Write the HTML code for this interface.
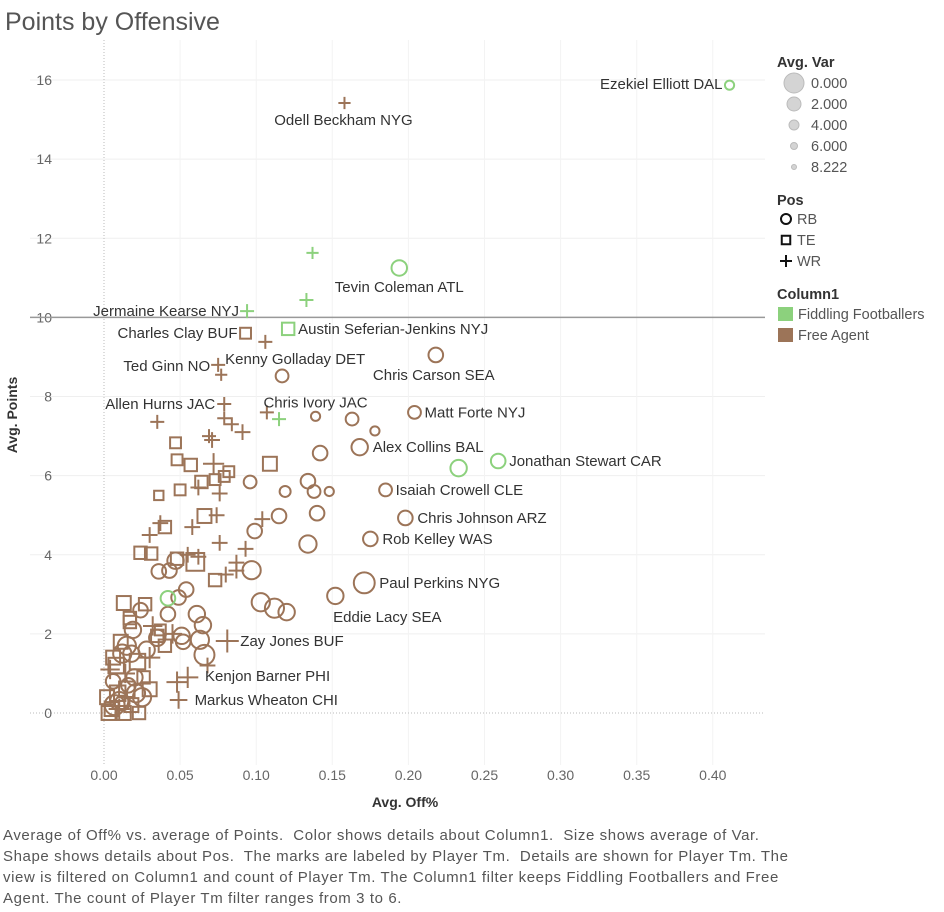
<!DOCTYPE html>
<html><head><meta charset="utf-8"><style>
body{margin:0;width:944px;height:912px;background:#fff;font-family:"Liberation Sans",sans-serif;overflow:hidden;position:relative}
#title{position:absolute;left:5px;top:8px;font-size:25px;color:#555}
#foot{position:absolute;left:3px;top:825px;font-size:15px;line-height:21px;color:#555;white-space:pre;letter-spacing:0.6px}
svg text{font-family:"Liberation Sans",sans-serif}
</style></head><body>
<div id="title">Points by Offensive</div>
<svg id="c" width="944" height="912" style="position:absolute;left:0;top:0"></svg>
<div id="foot">Average of Off% vs. average of Points.  Color shows details about Column1.  Size shows average of Var.
Shape shows details about Pos.  The marks are labeled by Player Tm.  Details are shown for Player Tm. The
view is filtered on Column1 and count of Player Tm. The Column1 filter keeps Fiddling Footballers and Free
Agent. The count of Player Tm filter ranges from 3 to 6.</div>
<script>
const xVals=[0.411,0.158,0.194,0.137,0.133,0.094,0.121,0.093,0.106,0.218,0.075,0.077,0.079,0.117,0.079,0.139,0.204,0.163,0.178,0.115,0.107,0.035,0.168,0.259,0.233,0.185,0.198,0.175,0.171,0.152,0.081,0.048,0.049,0.042,
0.142,0.134,0.138,0.148,0.14,0.134,0.115,0.119,0.099,0.096,0.097,0.103,0.112,0.120,0.066,0.063,0.065,0.061,0.049,0.054,0.043,0.036,0.047,0.051,0.018,
0.047,0.048,0.057,0.050,0.064,0.082,0.109,0.073,0.079,0.066,0.036,0.040,0.031,0.048,0.060,0.073,0.024,0.013,0.027,0.017,0.035,0.037,
0.071,0.069,0.084,0.091,0.030,0.037,0.093,0.104,0.087,0.087,0.076,0.080,0.068,0.062,0.058,0.074,0.055,0.076,0.062,0.072,
0.005,0.010,0.015,0.020,0.008,0.012,0.018,0.025,0.003,0.006,0.014,0.022,0.028,0.009,0.016,0.004,0.011,0.019,0.026,0.030,0.007,0.013,0.021,0.002,0.017,0.024,0.032,0.035,0.040,0.045,0.052,0.010,0.006,0.015,0.023,0.042,0.055,0.030,0.012,0.020];
const yVals=[15.87,15.42,11.25,11.63,10.44,10.16,9.71,9.6,9.38,9.05,8.8,8.55,7.81,8.52,7.45,7.5,7.6,7.43,7.13,7.43,7.6,7.36,6.72,6.37,6.19,5.64,4.93,4.4,3.29,2.96,1.82,0.78,0.33,2.9,
6.57,5.86,5.6,5.6,5.05,4.27,4.98,5.6,4.6,5.84,3.61,2.8,2.65,2.55,1.47,1.85,2.22,2.5,2.92,3.12,3.6,3.58,3.85,1.95,1.5,
6.83,6.4,6.27,5.64,5.84,6.1,6.3,5.9,5.98,4.98,5.5,4.7,4.03,3.9,3.82,3.36,4.05,2.78,2.75,2.3,1.95,2.1,
6.9,7.0,7.3,7.1,4.5,4.8,4.15,4.9,3.8,3.6,4.3,3.5,1.2,3.95,4.7,5.0,4.0,5.55,5.7,6.3,
0.1,0.3,0.6,0.9,1.2,1.5,0.2,0.4,0.0,0.8,1.0,1.3,1.6,0.5,0.7,1.1,1.8,2.1,0.9,1.4,0.2,0.0,0.5,0.4,2.4,2.6,2.2,1.9,1.7,2.0,1.8,0.1,1.4,1.7,0.0,2.5,0.9,0.6,0.25,0.15];
const posVals=["RB","WR","RB","WR","WR","WR","TE","TE","WR","RB","WR","WR","WR","RB","WR","RB","RB","RB","RB","WR","WR","WR","RB","RB","RB","RB","RB","RB","RB","RB","WR","WR","WR","RB",
"RB","RB","RB","RB","RB","RB","RB","RB","RB","RB","RB","RB","RB","RB","RB","RB","RB","RB","RB","RB","RB","RB","RB","RB","RB",
"TE","TE","TE","TE","TE","TE","TE","TE","TE","TE","TE","TE","TE","TE","TE","TE","TE","TE","TE","TE","TE","TE",
"WR","WR","WR","WR","WR","WR","WR","WR","WR","WR","WR","WR","WR","WR","WR","WR","WR","WR","WR","WR",
"TE","RB","TE","RB","TE","RB","TE","RB","TE","RB","WR","TE","RB","TE","RB","WR","TE","RB","TE","WR","RB","TE","RB","TE","TE","RB","WR","RB","TE","WR","RB","WR","TE","RB","TE","RB","WR","TE","RB","WR"];
const grpVals=["F","A","F","F","F","F","F","A","A","A","A","A","A","A","A","A","A","A","A","F","A","A","A","F","F","A","A","A","A","A","A","A","A","F"];
const varVals=[8,8,4.5,8,7,7,5,6,7,5,7,8,7,6,7,8,6,6,8,7,7,7,4,5,4,6,5,5,1.5,4,2,3,5,5,
5,5,6,8,5,3.5,5,7,5,6,3,3,2.5,4,2,3,4,4,5,5,5,5,4,4,4,
6,6,5,6,5,6,4,6,6,4,7,5,5,5,1.5,5,5,4,5,5,5,
6,6,7,7,6,6,6,6,6,6,6,6,6,6,6,6,6,6,6,6,
3,4,3,3,4,3,3,4,3,4,5,4,3,4,3,5,4,4,4,5,3,2,4,3,4,5,5,4,4,5,4,5,3,4,3,5,5,3,4,5];
const labelNames=["Ezekiel Elliott DAL","Odell Beckham NYG","Tevin Coleman ATL","Jermaine Kearse NYJ","Austin Seferian-Jenkins NYJ","Charles Clay BUF","Ted Ginn NO","Kenny Golladay DET","Chris Carson SEA","Allen Hurns JAC","Chris Ivory JAC","Matt Forte NYJ","Alex Collins BAL","Jonathan Stewart CAR","Isaiah Crowell CLE","Chris Johnson ARZ","Rob Kelley WAS","Paul Perkins NYG","Eddie Lacy SEA","Zay Jones BUF","Kenjon Barner PHI","Markus Wheaton CHI"];
const labelIdx=[0,1,2,5,6,7,10,10,9,12,15,16,22,23,25,26,27,28,29,30,31,32];
const labelOff=[[-7,4,"end"],[-1,22,"middle"],[0,24,"middle"],[-8,5,"end"],[10,5,"start"],[-8,5,"end"],[-8,6,"end"],[7,-1,"start"],[-2,25,"middle"],[-9,5,"end"],[0,-9,"middle"],[10,5,"start"],[13,5,"start"],[11,5,"start"],[10,5,"start"],[12,5,"start"],[12,5,"start"],[15,5,"start"],[52,26,"middle"],[13,5,"start"],[28,-1,"start"],[16,5,"start"]];
const yTicks=[0,2,4,6,8,10,12,14,16];
const xTicks=[0,0.05,0.1,0.15,0.2,0.25,0.3,0.35,0.4];
const refLine=10;

const NS="http://www.w3.org/2000/svg";
const svg=document.getElementById('c');
const X0=104,XS=1522,Y0=713,YS=39.56;
const sx=v=>X0+v*XS, sy=v=>Y0-v*YS;
const PL=30,PR=765,PT=40,PB=765;
function mk(t,a,p){const e=document.createElementNS(NS,t);for(const k in a)e.setAttribute(k,a[k]);(p||svg).appendChild(e);return e;}
const grid=mk('g',{});


yTicks.forEach(t=>{
  if(t!==0)mk('line',{x1:PL,x2:PR,y1:sy(t),y2:sy(t),stroke:'#efefef'},grid);
  const tx=mk('text',{x:52,y:sy(t)+5,'text-anchor':'end','font-size':14,fill:'#666'});
  tx.textContent=t;
  
  
});
xTicks.forEach(t=>{
  if(t!==0)mk('line',{x1:sx(t),x2:sx(t),y1:PT,y2:PB,stroke:'#f3f3f3'},grid);
  const tx=mk('text',{x:sx(t),y:780,'text-anchor':'middle','font-size':14,fill:'#666'});
  tx.textContent=t.toFixed(2);
  
  
});
mk('line',{x1:sx(0),x2:sx(0),y1:PT,y2:PB,stroke:'#bbb','stroke-dasharray':'1,2'},grid);
mk('line',{x1:PL,x2:PR,y1:sy(0),y2:sy(0),stroke:'#bbb','stroke-dasharray':'1,2'},grid);
const rl=mk('line',{x1:PL,x2:PR,y1:sy(refLine),y2:sy(refLine),stroke:'#999','stroke-width':1.5});


const yl=mk('text',{x:0,y:0,transform:'translate(17,415) rotate(-90)','text-anchor':'middle','font-size':14,'font-weight':'bold',fill:'#333'});
yl.textContent='Avg. Points';


const xl=mk('text',{x:405,y:807,'text-anchor':'middle','font-size':14,'font-weight':'bold',fill:'#333'});
xl.textContent='Avg. Off%';



const marks=mk('g',{});


function drawMark(x,y,pos,col,r,g){
  let e;
  if(pos==='RB')e=mk('circle',{cx:x,cy:y,r:r,fill:'none',stroke:col,'stroke-width':2},g);
  else if(pos==='TE'){const s=r*0.85;e=mk('rect',{x:x-s,y:y-s,width:2*s,height:2*s,fill:'none',stroke:col,'stroke-width':2},g);}
  else e=mk('path',{d:`M${x-r} ${y}H${x+r}M${x} ${y-r}V${y+r}`,stroke:col,'stroke-width':2,fill:'none'},g);
  return e;
}
const order=xVals.map((_,i)=>i).reverse();
order.forEach(i=>{
  const col=(grpVals[i]||'A')==='F'?'#8cd17d':'#9c7458';
  let r=11.8-0.9*varVals[i];
  if(posVals[i]==='WR')r+=1.5;
  const e=drawMark(sx(xVals[i]),sy(yVals[i]),posVals[i],col,r,marks);
  
  
});
labelNames.forEach((n,k)=>{
  const i=labelIdx[k],o=labelOff[k];
  const t=mk('text',{x:sx(xVals[i])+o[0],y:sy(yVals[i])+o[1],'text-anchor':o[2],'font-size':15,fill:'#333'});
  t.textContent=n;
  
  
});

// legend
const lg=mk('g',{});


function txt(x,y,s,b,nm){const t=mk('text',{x:x,y:y,'font-size':14.5,fill:b?'#333':'#555','font-weight':b?'bold':'normal'},lg);t.textContent=s;return t;}
txt(777,67,'Avg. Var',true,'size-legend-title');
const sizes=['0.000','2.000','4.000','6.000','8.222'],rads=[10,7,5,3.5,2.5],sy0=[83,104,125,146,167];
sizes.forEach((s,i)=>{const c=mk('circle',{cx:794,cy:sy0[i],r:rads[i],fill:'#d4d4d4',stroke:'#bbb'},lg);txt(811,sy0[i]+5,s,false,'size-legend-entry');});
txt(777,205,'Pos',true,'shape-legend-title');
['RB','TE','WR'].forEach((p,i)=>{const y=219+i*21;const m=drawMark(786,y,p,'#111',p==='WR'?6:5,lg);txt(797,y+5,p,false,'shape-legend-entry');});
txt(777,299,'Column1',true,'color-legend-title');
[['Fiddling Footballers','#8cd17d'],['Free Agent','#9c7458']].forEach((c,i)=>{const y=307+i*21;const r=mk('rect',{x:778,y:y,width:15,height:14,fill:c[1]},lg);txt(798,y+12,c[0],false,'color-legend-entry');});
</script>
</body></html>
